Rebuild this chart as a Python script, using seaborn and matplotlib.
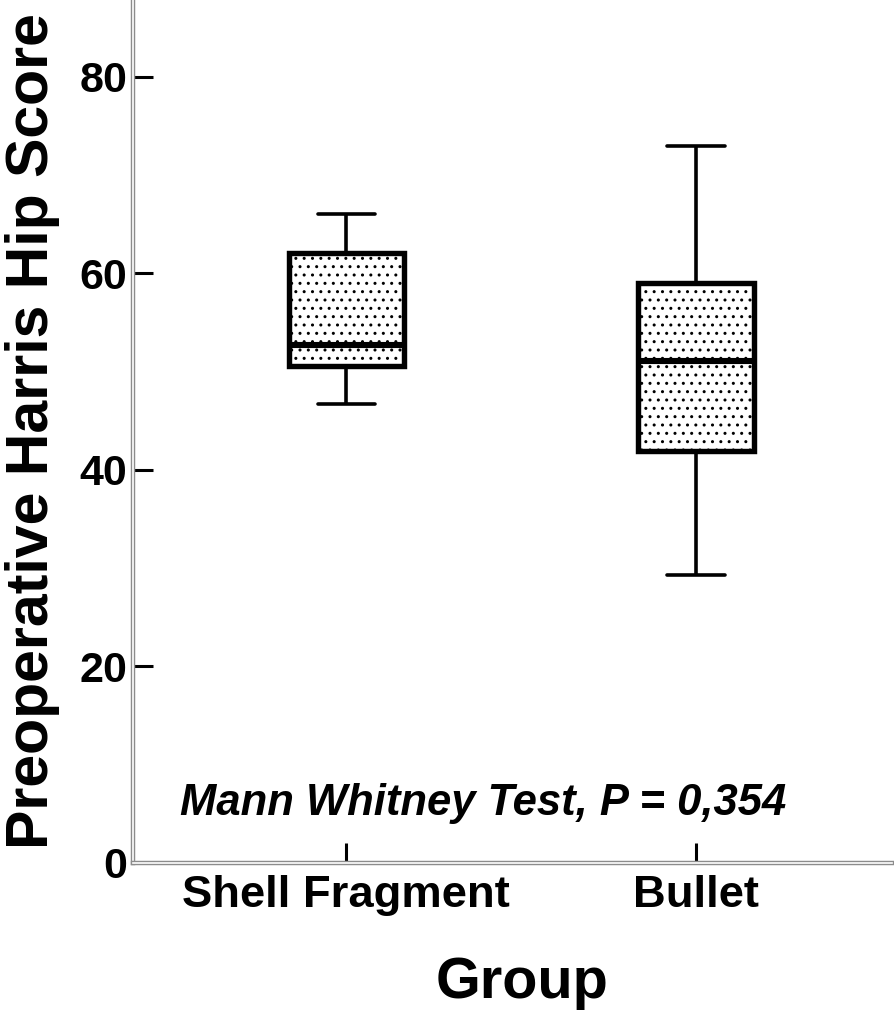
import matplotlib
matplotlib.use("Agg")
import matplotlib.pyplot as plt
import matplotlib.patheffects as pe
import seaborn as sns
import pandas as pd

# Five-number summaries (min, Q1, median, Q3, max)
groups = ["Shell Fragment", "Bullet"]
shell_fragment = [46.7, 50.5, 52.7, 62.0, 66.0]
bullet = [29.3, 41.9, 51.1, 59.0, 72.9]
y_ticks = [0, 20, 40, 60, 80]

df = pd.DataFrame({
    "Group": [groups[0]] * len(shell_fragment) + [groups[1]] * len(bullet),
    "Score": shell_fragment + bullet,
})

sns.set_theme(style="white")
plt.rcParams["font.family"] = ["Liberation Sans", "DejaVu Sans"]
plt.rcParams["hatch.linewidth"] = 1.0
for k in ["text.color", "axes.labelcolor", "xtick.color", "ytick.color"]:
    plt.rcParams[k] = "black"

fig = plt.figure(figsize=(8.94, 10.17), dpi=100)
ax = fig.add_axes([133 / 894, (1017 - 862.5) / 1017, (892 - 133) / 894, 862.5 / 1017])

sns.boxplot(
    data=df, x="Group", y="Score", order=groups, ax=ax,
    color="white", linecolor="black", width=0.33, whis=(0, 100),
    linewidth=2.6,
    boxprops=dict(linewidth=3.9, edgecolor="black", facecolor="white"),
    medianprops=dict(linewidth=4.4, color="black"),
    whiskerprops=dict(linewidth=2.6, color="black"),
    capprops=dict(linewidth=2.6, color="black"),
)
for p in ax.patches:
    p.set_hatch("..")
    p.set_edgecolor("black")
    p.set_facecolor("white")

ax.set_xlim(-0.61, 1.56)
ax.set_ylim(0, 87.8)
ax.set_yticks(y_ticks)
ax.set_yticklabels([str(t) for t in y_ticks])

for side in ["top", "right"]:
    ax.spines[side].set_visible(False)
for side in ["left", "bottom"]:
    sp = ax.spines[side]
    sp.set_visible(True)
    sp.set_color("white")
    sp.set_linewidth(1.2)
    sp.set_path_effects([pe.Stroke(linewidth=3.2, foreground="#8c8c8c"), pe.Normal()])

ax.tick_params(axis="y", direction="in", length=14.5, width=2.2, color="black",
               left=True, pad=4, labelsize=31, labelcolor="black")
ax.tick_params(axis="x", direction="in", length=14.5, width=2.2, color="black",
               bottom=True, pad=9, labelsize=32.7, labelcolor="black")
for lab in ax.get_xticklabels() + ax.get_yticklabels():
    lab.set_fontweight("bold")
ax.yaxis.get_major_ticks()[0].tick1line.set_visible(False)

ax.set_xlabel("Group", fontsize=41.5, fontweight="bold", color="black")
ax.xaxis.set_label_coords((522 - 133) / 759, -0.108)
ax.set_ylabel("Preoperative Harris Hip Score", fontsize=42.5, fontweight="bold",
              labelpad=14, color="black")

ax.text(-0.475, 4.8, "Mann Whitney Test, P = 0,354", fontsize=31.4,
        fontweight="bold", fontstyle="italic", ha="left", va="baseline", color="black")

fig.savefig("out.png", dpi=100)
